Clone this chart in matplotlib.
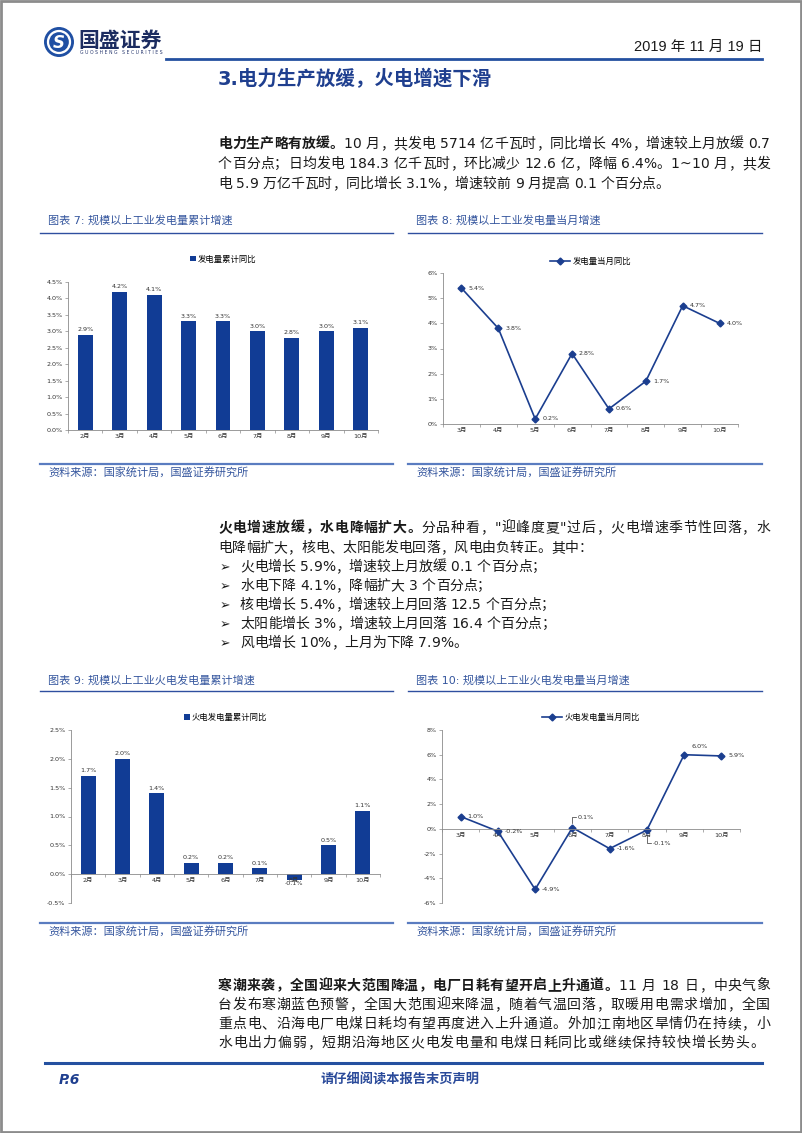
import matplotlib
matplotlib.use('Agg')
import matplotlib.pyplot as plt
from matplotlib.patches import Circle, Rectangle
from matplotlib.font_manager import FontProperties
import numpy as np

FAM = ['DejaVu Sans', 'Noto Sans CJK SC']
plt.rcParams['font.family'] = FAM

# ---- data ----
months7 = ['2月', '3月', '4月', '5月', '6月', '7月', '8月', '9月', '10月']
gen_cum = [2.9, 4.2, 4.1, 3.3, 3.3, 3.0, 2.8, 3.0, 3.1]

months8 = ['3月', '4月', '5月', '6月', '7月', '8月', '9月', '10月']
gen_month = [5.4, 3.8, 0.2, 2.8, 0.6, 1.7, 4.7, 4.0]

months9 = ['2月', '3月', '4月', '5月', '6月', '7月', '8月', '9月', '10月']
thermal_cum = [1.7, 2.0, 1.4, 0.2, 0.2, 0.1, -0.1, 0.5, 1.1]

months10 = ['3月', '4月', '5月', '6月', '7月', '8月', '9月', '10月']
thermal_month = [1.0, -0.2, -4.9, 0.1, -1.6, -0.1, 6.0, 5.9]

BAR = '#113c95'
LINE = '#1b3e8f'
BLUE = '#2450a0'
TITLE_C = '#35569e'
TXT = '#1a1a1a'

W, H = 802, 1133
fig = plt.figure(figsize=(W / 100, H / 100), dpi=100)
bg = fig.add_axes([0, 0, 1, 1])
bg.set_xlim(0, W)
bg.set_ylim(H, 0)
bg.axis('off')
renderer = fig.canvas.get_renderer()

_cache = {}
def char_w(c, size, weight):
    key = (c, size, weight)
    if key not in _cache:
        fp = FontProperties(family=FAM, size=size, weight=weight)
        w1 = renderer.get_text_width_height_descent('|' + c + '|', fp, ismath=False)[0]
        w0 = renderer.get_text_width_height_descent('||', fp, ismath=False)[0]
        _cache[key] = w1 - w0
    return _cache[key]

def draw_line(x, y, runs, size=10, target=None, color=TXT):
    chars = [(c, wt) for s, wt in runs for c in s]
    ws = [char_w(c, size, wt) for c, wt in chars]
    gap = 0
    if target and len(chars) > 1:
        gap = (target - sum(ws)) / (len(chars) - 1)
    cx = x
    for (c, wt), w in zip(chars, ws):
        if c != ' ':
            bg.text(cx, y + 5, c, fontsize=size, fontweight=wt, color=color,
                    ha='left', va='baseline', family=FAM)
        cx += w + gap

# ---- page frame ----
bg.add_patch(Rectangle((1, 1), W - 2, H - 2, fill=False, ec='#8c8c8c', lw=2))

# ---- header ----
lg = fig.add_axes([44 / W, 1 - 57 / H, 30 / W, 30 / H])
lg.set_xlim(-1.05, 1.05)
lg.set_ylim(-1.05, 1.05)
lg.set_aspect('equal')
lg.axis('off')
lg.add_patch(Circle((0, 0), 1, color='#1f4fa3'))
lg.add_patch(Circle((0, 0), 0.8, color='white'))
lg.add_patch(Circle((0, 0), 0.64, color='#1f4fa3'))
lg.text(0, -0.05, 'S', color='white', fontsize=12, fontweight='bold',
        ha='center', va='center', style='italic')

bg.text(78, 41, '国盛证券', fontsize=15, fontweight='bold', color='#1c2c60',
        ha='left', va='center')
bg.text(80, 53, 'G U O S H E N G   S E C U R I T I E S', fontsize=3.3,
        color='#2a3a70', ha='left', va='center')
bg.text(762, 47, '2019 年 11 月 19 日', fontsize=10.5, color=TXT,
        ha='right', va='center', family=['Liberation Sans', 'Noto Sans CJK SC'])
bg.plot([166, 762], [59, 59], color=BLUE, lw=2)
bg.text(218, 79, '3.电力生产放缓，火电增速下滑', fontsize=14, fontweight='bold',
        color='#1f3f8f', ha='left', va='center')

# ---- paragraph 1 ----
TW = 552
draw_line(218, 143, [('电力生产略有放缓。', 'bold'),
                     ('10 月，共发电 5714 亿千瓦时，同比增长 4%，增速较上月放缓 0.7', 'normal')], target=TW)
draw_line(218, 163, [('个百分点；日均发电 184.3 亿千瓦时，环比减少 12.6 亿，降幅 6.4%。1~10 月，共发', 'normal')], target=TW)
draw_line(218, 183, [('电 5.9 万亿千瓦时，同比增长 3.1%，增速较前 9 月提高 0.1 个百分点。', 'normal')])

# ---- paragraph 2 ----
draw_line(218, 527, [('火电增速放缓，水电降幅扩大。', 'bold'),
                     ('分品种看，"迎峰度夏"过后，火电增速季节性回落，水', 'normal')], target=TW)
draw_line(218, 547, [('电降幅扩大，核电、太阳能发电回落，风电由负转正。其中：', 'normal')])
bullets = ['火电增长 5.9%，增速较上月放缓 0.1 个百分点；',
           '水电下降 4.1%，降幅扩大 3 个百分点；',
           '核电增长 5.4%，增速较上月回落 12.5 个百分点；',
           '太阳能增长 3%，增速较上月回落 16.4 个百分点；',
           '风电增长 10%，上月为下降 7.9%。']
for i, b in enumerate(bullets):
    yy = 566 + i * 19
    bg.text(220, yy + 5, '\u27a2', fontsize=9, color=TXT, ha='left', va='baseline')
    draw_line(240, yy, [(b, 'normal')])

# ---- paragraph 3 ----
draw_line(218, 985, [('寒潮来袭，全国迎来大范围降温，电厂日耗有望开启上升通道。', 'bold'),
                     ('11 月 18 日，中央气象', 'normal')], target=TW)
draw_line(218, 1004, [('台发布寒潮蓝色预警，全国大范围迎来降温，随着气温回落，取暖用电需求增加，全国', 'normal')], target=TW)
draw_line(218, 1023, [('重点电、沿海电厂电煤日耗均有望再度进入上升通道。外加江南地区旱情仍在持续，小', 'normal')], target=TW)
draw_line(218, 1042, [('水电出力偏弱，短期沿海地区火电发电量和电煤日耗同比或继续保持较快增长势头。', 'normal')], target=546)

# ---- footer ----
bg.plot([45, 762], [1063, 1063], color=BLUE, lw=2.2)
bg.text(59, 1080, 'P.6', fontsize=10, fontweight='bold', style='italic',
        color='#1f3f8f', ha='left', va='center')
bg.text(400, 1080, '请仔细阅读本报告末页声明', fontsize=9.5, fontweight='bold',
        color='#2a4a9a', ha='center', va='center')

# ---- chart frames ----
def frame(x0, x1, ytitle, yline, ysrc_line, ysrc, title):
    bg.text(x0 + 8, ytitle, title, fontsize=8, color=TITLE_C, ha='left', va='center')
    bg.plot([x0, x1], [yline, yline], color='#2f4f9f', lw=1.0)
    bg.plot([x0, x1], [ysrc_line, ysrc_line], color='#5a7cc0', lw=1.6)
    bg.text(x0 + 8, ysrc, '资料来源：国家统计局，国盛证券研究所', fontsize=8,
            color=TITLE_C, ha='left', va='center')

frame(40, 393, 220, 233, 464, 472, '图表 7: 规模以上工业发电量累计增速')
frame(408, 762, 220, 233, 464, 472, '图表 8: 规模以上工业发电量当月增速')
frame(40, 393, 680, 691, 923, 931, '图表 9: 规模以上工业火电发电量累计增速')
frame(408, 762, 680, 691, 923, 931, '图表 10: 规模以上工业火电发电量当月增速')

def px_axes(l, t, r, b):
    return fig.add_axes([l / W, 1 - b / H, (r - l) / W, (b - t) / H])

def style(ax, n, fmt):
    for s in ['top', 'right']:
        ax.spines[s].set_visible(False)
    for s in ['left', 'bottom']:
        ax.spines[s].set_color('#8a8a8a')
        ax.spines[s].set_linewidth(0.6)
    ax.patch.set_alpha(0)
    ax.tick_params(axis='both', labelsize=4.6, labelcolor='#333333', color='#8a8a8a',
                   length=2, width=0.5, pad=2)
    ax.tick_params(axis='x', which='major', length=0, pad=3)
    ax.set_xticks(np.arange(-0.5, n), minor=True)
    ax.tick_params(axis='x', which='minor', length=2, width=0.5, color='#8a8a8a')
    ax.set_xlim(-0.5, n - 0.5)
    ax.yaxis.set_major_formatter(plt.FuncFormatter(lambda v, p: fmt % v))

# chart 7
ax7 = px_axes(68, 282, 378, 430)
x7 = np.arange(len(months7))
ax7.bar(x7, gen_cum, width=0.43, color=BAR, label='发电量累计同比')
style(ax7, len(months7), '%.1f%%')
ax7.set_ylim(0, 4.5)
ax7.set_yticks(np.arange(0, 4.51, 0.5))
ax7.set_xticks(x7)
ax7.set_xticklabels(months7)
for i, v in enumerate(gen_cum):
    ax7.annotate('%.1f%%' % v, (i, v), xytext=(0, 2), textcoords='offset points',
                 ha='center', va='bottom', fontsize=4.6, color='#333333')
ax7.legend(loc='center', bbox_to_anchor=(0.5, 1 + 23 / 148), frameon=False, fontsize=6,
           handlelength=0.7, handleheight=0.7, handletextpad=0.2)

# chart 8
ax8 = px_axes(443, 273, 738, 424)
x8 = np.arange(len(months8))
ax8.plot(x8, gen_month, color=LINE, lw=1.2, marker='D', ms=3.5, label='发电量当月同比')
style(ax8, len(months8), '%d%%')
ax8.set_ylim(0, 6)
ax8.set_yticks(np.arange(0, 6.1, 1))
ax8.set_xticks(x8)
ax8.set_xticklabels(months8)
for i, v in enumerate(gen_month):
    ax8.annotate('%.1f%%' % v, (i, v), xytext=(5, 0), textcoords='offset points',
                 ha='left', va='center', fontsize=4.6, color='#333333')
ax8.legend(loc='center', bbox_to_anchor=(0.5, 1 + 12 / 151), frameon=False, fontsize=6,
           handlelength=2.4, handletextpad=0.3)

# chart 9
ax9 = px_axes(71, 730, 380, 903)
x9 = np.arange(len(months9))
ax9.bar(x9, thermal_cum, width=0.44, color=BAR, label='火电发电量累计同比')
style(ax9, len(months9), '%.1f%%')
ax9.set_ylim(-0.5, 2.5)
ax9.set_yticks(np.arange(-0.5, 2.51, 0.5))
ax9.spines['bottom'].set_position(('data', 0))
ax9.set_xticks(x9)
ax9.set_xticklabels(months9)
for i, v in enumerate(thermal_cum):
    if v >= 0:
        ax9.annotate('%.1f%%' % v, (i, v), xytext=(0, 2), textcoords='offset points',
                     ha='center', va='bottom', fontsize=4.6, color='#333333')
    else:
        ax9.annotate('%.1f%%' % v, (i, v), xytext=(0, -1), textcoords='offset points',
                     ha='center', va='top', fontsize=4.6, color='#333333')
ax9.legend(loc='center', bbox_to_anchor=(0.5, 1 + 13 / 173), frameon=False, fontsize=6,
           handlelength=0.7, handleheight=0.7, handletextpad=0.2)

# chart 10
ax10 = px_axes(442, 730, 740, 903)
x10 = np.arange(len(months10))
ax10.plot(x10, thermal_month, color=LINE, lw=1.2, marker='D', ms=3.5, label='火电发电量当月同比')
style(ax10, len(months10), '%d%%')
ax10.set_ylim(-6, 8)
ax10.set_yticks(np.arange(-6, 8.1, 2))
ax10.spines['bottom'].set_position(('data', 0))
ax10.set_xticks(x10)
ax10.set_xticklabels(months10)
offs10 = [(5, 0), (5, 0), (5, 0), (None, None), (5, 0), (None, None), (5, 6), (5, 0)]
for i, v in enumerate(thermal_month):
    dx, dy = offs10[i]
    if dx is None:
        continue
    ax10.annotate('%.1f%%' % v, (i, v), xytext=(dx, dy), textcoords='offset points',
                  ha='left', va='center', fontsize=4.6, color='#333333')
# leader-line labels
ax10.plot([3, 3, 3.1], [0.45, 0.95, 0.95], color='#333333', lw=0.5)
ax10.text(3.14, 0.95, '%.1f%%' % thermal_month[3], fontsize=4.6, color='#333333',
          ha='left', va='center')
ax10.plot([5, 5, 5.12], [-0.5, -1.15, -1.15], color='#333333', lw=0.5)
ax10.text(5.16, -1.15, '%.1f%%' % thermal_month[5], fontsize=4.6, color='#333333',
          ha='left', va='center')
ax10.legend(loc='center', bbox_to_anchor=(0.5, 1 + 13 / 173), frameon=False, fontsize=6,
            handlelength=2.4, handletextpad=0.3)

fig.savefig('out.png', dpi=100)
